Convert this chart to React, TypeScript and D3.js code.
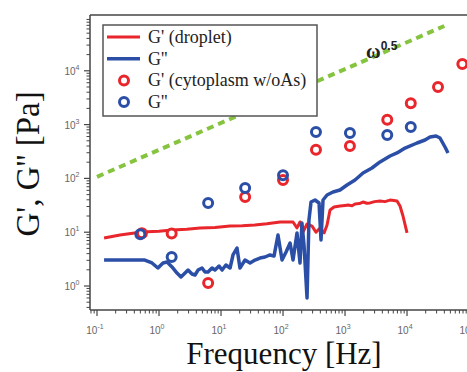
import React, { useEffect, useRef } from "react";
import * as d3 from "d3";

// G' droplet (red line)
const dropGpFreq = [0.13, 0.235, 0.53, 1.0, 1.62, 2.8, 4.6, 8.0, 14, 22, 35, 55, 90, 145, 168, 188, 210, 244, 294, 340, 395, 460, 513, 573, 665, 830, 1000, 1117, 1300, 1450, 1700, 1950, 2250, 2530, 3000, 3670, 4400, 5320, 6100, 6900, 7710, 8610, 10000];
const dropGpVal = [7.8, 8.9, 10.1, 10.4, 11.0, 11.3, 12.0, 12.2, 13.0, 13.2, 13.6, 14.3, 15.5, 15.5, 12.0, 15.5, 10.0, 14.2, 13.0, 10.0, 12.0, 9.7, 13.6, 25.9, 29.4, 30.7, 31.5, 32.0, 31.0, 33.4, 34.0, 36.4, 34.5, 35.0, 37.0, 38.0, 37.0, 39.5, 39.0, 38.0, 30.7, 20.0, 9.7];

// G'' droplet (blue line)
const dropGppFreq = [0.13, 0.235, 0.59, 0.77, 0.96, 1.16, 1.35, 1.62, 1.95, 2.26, 2.63, 2.94, 3.4, 3.81, 4.26, 4.94, 5.52, 6.17, 7.16, 8.0, 9.3, 10.4, 12.0, 14, 15.6, 18.1, 20.2, 24.4, 29.4, 35.3, 42.5, 51.3, 61.7, 71.6, 83, 96.4, 112, 130, 145, 168, 188, 202, 218, 244, 262, 283, 328, 381, 410, 442, 513, 640, 830, 1077, 1450, 1950, 2720, 3670, 5320, 6900, 9290, 14500, 19500, 23500, 29400, 34000, 41000, 45800];
const dropGppVal = [3.04, 3.04, 3.04, 2.68, 2.16, 2.68, 2.79, 2.26, 1.74, 1.47, 1.74, 1.98, 1.67, 1.6, 1.98, 2.16, 1.82, 1.82, 2.16, 1.98, 2.35, 1.98, 2.46, 2.16, 3.77, 5.08, 2.16, 3.04, 2.68, 3.04, 3.31, 3.46, 3.77, 3.6, 8.87, 3.04, 4.29, 6.3, 3.04, 9.67, 2.68, 14.8, 5.78, 0.6, 16.9, 36.4, 39.7, 34.9, 7.16, 39.7, 49.1, 55.9, 60.9, 75.4, 93.4, 126, 156, 202, 261, 297, 367, 455, 517, 588, 614, 564, 383, 297];

// cytoplasm w/oAs markers
const cytoGpFreq = [0.53, 1.6, 6.2, 24.5, 100, 340, 1200, 4800, 11500, 31600, 78000];
const cytoGpVal = [9.6, 9.5, 1.14, 45, 93, 340, 400, 1230, 2500, 5000, 13400];
const cytoGppFreq = [0.5, 1.6, 6.2, 24.5, 100, 340, 1200, 4800, 11500];
const cytoGppVal = [9.2, 3.46, 35, 66, 115, 730, 700, 640, 900];

// omega^0.5 guide line
const guideFreq = [0.1, 40000];
const guideVal = [107, 68000];

const xTickExps = [-1, 0, 1, 2, 3, 4, 5];
const yTickExps = [0, 1, 2, 3, 4];

const legendLabels = ["G' (droplet)", "G''", "G' (cytoplasm w/oAs)", "G''"];

const RED = "#e8262b";
const BLUE = "#2b4fa6";
const GREEN = "#86c440";
const AXIS = "#444";
const SERIF = "Times New Roman";
const SANS = "Liberation Sans";

export default function App() {
  const ref = useRef<SVGSVGElement>(null);
  const W = 467, H = 372;

  useEffect(() => {
    const left = 90, bottom = 310, top = 15, right = 480;
    const svg = d3.select(ref.current);
    svg.selectAll("*").remove();
    const x = d3.scaleLog().domain([Math.pow(10, -1.113), Math.pow(10, 5.177)]).range([left, right]);
    const y = d3.scaleLog().domain([Math.pow(10, -0.446), Math.pow(10, 5.037)]).range([bottom, top]);
    const line = d3.line<[number, number]>().x(d => x(d[0])).y(d => y(d[1]));

    svg.append("rect").attr("width", W).attr("height", H).attr("fill", "#fff");

    // axis titles
    svg.append("text").attr("x", 284).attr("y", 364).attr("text-anchor", "middle")
      .style("font-family", SERIF).style("font-size", "31px").attr("fill", "#111").text("Frequency [Hz]");
    svg.append("text").attr("transform", "translate(39,164) rotate(-90)").attr("text-anchor", "middle")
      .style("font-family", SERIF).style("font-size", "33px").attr("fill", "#111").text("G', G'' [Pa]");

    // guide line
    svg.append("path").attr("d", line(guideFreq.map((f, i) => [f, guideVal[i]] as [number, number])))
      .attr("stroke", GREEN).attr("stroke-width", 4).attr("stroke-dasharray", "7,5").attr("fill", "none");
    const om = svg.append("text").attr("x", 366).attr("y", 58).attr("fill", "#222")
      .style("font-family", SERIF).style("font-weight", "bold").style("font-size", "20px");
    om.append("tspan").text("ω");
    om.append("tspan").attr("dy", -8).style("font-family", SANS).style("font-size", "12px").style("font-weight", "bold").text("0.5");

    // lines
    svg.append("path").attr("d", line(dropGpFreq.map((f, i) => [f, dropGpVal[i]] as [number, number])))
      .attr("stroke", RED).attr("stroke-width", 3).attr("fill", "none").attr("stroke-linejoin", "round");
    svg.append("path").attr("d", line(dropGppFreq.map((f, i) => [f, dropGppVal[i]] as [number, number])))
      .attr("stroke", BLUE).attr("stroke-width", 3.5).attr("fill", "none").attr("stroke-linejoin", "round");

    // markers
    svg.selectAll(".rm").data(cytoGpFreq).enter().append("circle")
      .attr("cx", d => x(d)).attr("cy", (_d, i) => y(cytoGpVal[i])).attr("r", 4.5)
      .attr("fill", "#fff").attr("stroke", RED).attr("stroke-width", 3);
    svg.selectAll(".bm").data(cytoGppFreq).enter().append("circle")
      .attr("cx", d => x(d)).attr("cy", (_d, i) => y(cytoGppVal[i])).attr("r", 4.5)
      .attr("fill", "none").attr("stroke", BLUE).attr("stroke-width", 3);

    // frame
    const fr = [[left, top, W, top], [left, top, left, bottom], [left, bottom, W, bottom]];
    fr.forEach(l => svg.append("line").attr("x1", l[0]).attr("y1", l[1]).attr("x2", l[2]).attr("y2", l[3])
      .attr("stroke", AXIS).attr("stroke-width", 1.5));

    // x ticks
    xTickExps.forEach(e => {
      const px = x(Math.pow(10, e));
      svg.append("line").attr("x1", px).attr("x2", px).attr("y1", bottom).attr("y2", bottom + 6).attr("stroke", AXIS).attr("stroke-width", 1.2);
      const t = svg.append("text").attr("x", px - 2).attr("y", bottom + 24).attr("text-anchor", "middle")
        .style("font-family", SANS).style("font-size", "10px").attr("fill", "#666");
      t.append("tspan").text("10");
      t.append("tspan").attr("dy", -5).style("font-size", "7px").text(String(e));
    });
    for (let e = -2; e <= 5; e++) for (let m = 2; m <= 9; m++) {
      const px = x(m * Math.pow(10, e));
      if (px > left && px < W) svg.append("line").attr("x1", px).attr("x2", px).attr("y1", bottom).attr("y2", bottom + 3.5).attr("stroke", AXIS).attr("stroke-width", 1);
    }
    // y ticks
    yTickExps.forEach(e => {
      const py = y(Math.pow(10, e));
      svg.append("line").attr("x1", left - 6).attr("x2", left).attr("y1", py).attr("y2", py).attr("stroke", AXIS).attr("stroke-width", 1.2);
      const t = svg.append("text").attr("x", left - 18).attr("y", py + 4).attr("text-anchor", "middle")
        .style("font-family", SANS).style("font-size", "10px").attr("fill", "#666");
      t.append("tspan").text("10");
      t.append("tspan").attr("dy", -5).style("font-size", "7px").text(String(e));
    });
    for (let e = -1; e <= 5; e++) for (let m = 2; m <= 9; m++) {
      const py = y(m * Math.pow(10, e));
      if (py < bottom && py > top) svg.append("line").attr("x1", left - 3.5).attr("x2", left).attr("y1", py).attr("y2", py).attr("stroke", AXIS).attr("stroke-width", 1);
    }

    // legend
    svg.append("rect").attr("x", 103).attr("y", 25).attr("width", 214).attr("height", 91)
      .attr("fill", "#fff").attr("stroke", "#555").attr("stroke-width", 1.5);
    legendLabels.forEach((lab, i) => {
      const cy = 37 + i * 21.7;
      const col = i % 2 === 0 ? RED : BLUE;
      if (i < 2) {
        svg.append("line").attr("x1", 107).attr("x2", 140).attr("y1", cy).attr("y2", cy).attr("stroke", col).attr("stroke-width", i === 0 ? 3 : 3.5);
      } else {
        svg.append("circle").attr("cx", 124).attr("cy", cy).attr("r", 4.5).attr("fill", "none").attr("stroke", col).attr("stroke-width", 3);
      }
      svg.append("text").attr("x", 148).attr("y", cy + 6).style("font-family", SERIF).style("font-size", "18px")
        .attr("fill", "#222").text(lab);
    });
  }, []);

  return <svg ref={ref} width={W} height={H} style={{ position: "absolute", left: 0, top: 0, background: "#fff" }} />;
}
